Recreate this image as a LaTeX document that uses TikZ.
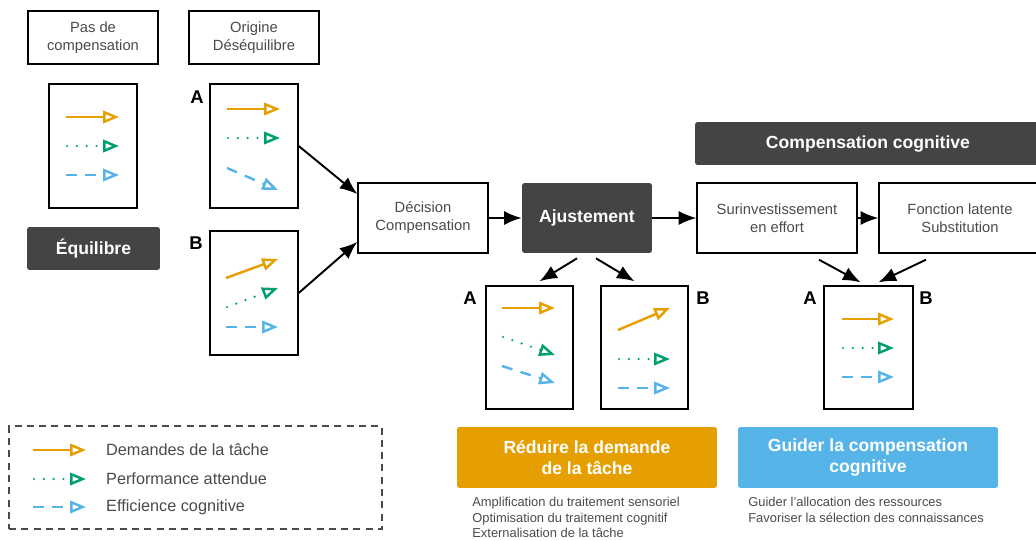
\documentclass[tikz,border=0pt]{standalone}
\usepackage{fontspec}
\setmainfont{Liberation Sans}
\usetikzlibrary{arrows.meta,calc}
\definecolor{darkbox}{HTML}{444444}
\definecolor{txtgray}{HTML}{4A4A4A}
\definecolor{demcol}{HTML}{E69F00}
\definecolor{perfcol}{HTML}{009E73}
\definecolor{effcol}{HTML}{56B4E9}
\begin{document}
\begin{tikzpicture}[x=0.02cm,y=-0.02cm,
  box/.style={draw=black,line width=0.8pt,text=txtgray,align=center,inner sep=0pt,
    font=\fontsize{8.4}{10.2}\selectfont,minimum width=2.6cm,minimum height=1.06cm},
  darkbox/.style={fill=darkbox,rounded corners=1.5pt,text=white,align=center,inner sep=0pt,
    font=\bfseries\fontsize{10}{12}\selectfont,minimum height=0.86cm},
  panel/.style={draw=black,line width=0.8pt,minimum width=1.76cm,minimum height=2.48cm,inner sep=0pt},
  lab/.style={font=\bfseries\fontsize{10.5}{12}\selectfont},
  conn/.style={-{Latex[length=10pt,width=8pt]},line width=1.1pt},
  tip/.style={-{Triangle[open,length=9pt,width=7pt,line cap=butt]}},
  dem/.style={tip,draw=demcol,line width=1.4pt},
  perf/.style={tip,draw=perfcol,line width=1.4pt,line cap=round,
    dash pattern=on 0pt off 5.6pt},
  eff/.style={tip,draw=effcol,line width=1.4pt,
    dash pattern=on 6.2pt off 4.8pt},
  small/.style={text=txtgray,align=left,inner sep=0pt,font=\fontsize{7.35}{8.8}\selectfont}]
\useasboundingbox (0,0) rectangle (1036,541);

% top row
\node[box] (pas) at (93,37.5) {Pas de\\compensation};
\node[box] (orig) at (254,37.5) {Origine\\Déséquilibre};

% panels on the left
\node[panel] (p0) at (93,146) {};
\node[panel] (pA) at (254,146) {};
\node[panel] (pB) at (254,293) {};
\node[lab] (labA) at (197,97) {A};
\node[lab] (labB) at (196,243) {B};
\node[darkbox,minimum width=2.66cm] (equi) at (93.5,248.5) {Équilibre};

\draw[dem] (66,117) -- (119,117);
\draw[perf] (67,146) -- (119,146);
\draw[eff] (66,175) -- (119,175);
\draw[dem] (227,109) -- (280,109);
\draw[perf] (228,138) -- (280,138);
\draw[eff] (227,168) -- (278,190);
\draw[dem] (226,278) -- (278,259);
\draw[perf] (227,307) -- (278,288);
\draw[eff] (226,327) -- (278,327);

% main chain
\node[box,minimum height=1.4cm] (dec) at (423,218) {Décision\\Compensation};
\node[darkbox,minimum width=2.6cm,minimum height=1.4cm] (ajust) at (587,218) {Ajustement};
\node[box,minimum width=3.2cm,minimum height=1.4cm] (surinv) at (777,218) {Surinvestissement\\en effort};
\node[box,minimum width=3.24cm,minimum height=1.4cm] (fonct) at (960,218) {Fonction latente\\Substitution};
\node[darkbox,minimum width=6.92cm] (comp) at (868,143.5) {Compensation cognitive};

\draw[conn] (pA.east) -- (dec.160);
\draw[conn] (pB.east) -- (dec.200);
\draw[conn] (dec) -- (ajust);
\draw[conn] (ajust) -- (surinv);
\draw[conn] (surinv) -- (fonct);

% panels below
\node[panel,minimum width=1.74cm,minimum height=2.46cm] (mA) at (529.5,347.5) {};
\node[panel,minimum width=1.74cm,minimum height=2.46cm] (mB) at (644.5,347.5) {};
\node[panel,minimum width=1.78cm,minimum height=2.46cm] (rP) at (868.5,347.5) {};
\node[lab] (labmA) at (470,298) {A};
\node[lab] (labmB) at (703,298) {B};
\node[lab] (labrA) at (810,298) {A};
\node[lab] (labrB) at (926,298) {B};

\draw[conn] ($(ajust.south)+(-10,5)$) -- ($(mA.north)+(10,-4)$);
\draw[conn] ($(ajust.south)+(9,5)$) -- ($(mB.north)+(-10,-4)$);
\draw[conn] ($(surinv.south)+(42,6)$) -- ($(rP.north)+(-8,-3)$);
\draw[conn] ($(fonct.south)+(-34,6)$) -- ($(rP.north)+(10,-3)$);

\draw[dem] (502,308) -- (555,308);
\draw[perf] (503,337) -- (555,355);
\draw[eff] (502,366) -- (555,383);
\draw[dem] (618,330) -- (670,308);
\draw[perf] (619,359) -- (670,359);
\draw[eff] (618,388) -- (670,388);
\draw[dem] (842,319) -- (894,319);
\draw[perf] (843,348) -- (894,348);
\draw[eff] (842,377) -- (894,377);

% actions
\node[darkbox,fill=demcol,minimum width=5.2cm,minimum height=1.22cm] (reduire) at (587,457.5) {Réduire la demande\\de la tâche};
\node[darkbox,fill=effcol,minimum width=5.2cm,minimum height=1.22cm] (guider) at (868,457.5) {Guider la compensation\\cognitive};
\node[small,anchor=north west] (redtxt) at (472,497) {Amplification du traitement sensoriel\\Optimisation du traitement cognitif\\Externalisation de la tâche};
\node[small,anchor=north west] (guitxt) at (748,497) {Guider l'allocation des ressources\\Favoriser la sélection des connaissances};

% legend
\node[draw=txtgray,dash pattern=on 4pt off 3pt,line width=0.7pt,minimum width=7.46cm,minimum height=2.06cm] (legend) at (195.5,477.5) {};
\draw[dem] (33,450) -- (86,450);
\draw[perf] (34,479) -- (86,479);
\draw[eff] (33,507) -- (86,507);
\node[anchor=west,text=txtgray,font=\fontsize{9.25}{11}\selectfont] (legdem) at (100,450) {Demandes de la tâche};
\node[anchor=west,text=txtgray,font=\fontsize{9.25}{11}\selectfont] (legperf) at (100,479) {Performance attendue};
\node[anchor=west,text=txtgray,font=\fontsize{9.25}{11}\selectfont] (legeff) at (100,507) {Efficience cognitive};
\end{tikzpicture}
\end{document}
